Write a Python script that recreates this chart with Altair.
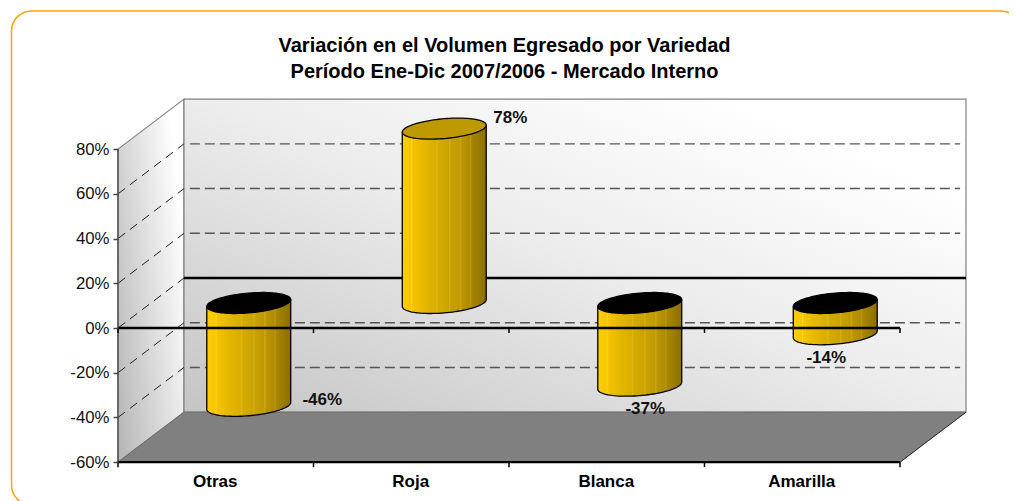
import math
import altair as alt
import pandas as pd

# ---- chart content -------------------------------------------------------
categories = ["Otras", "Roja", "Blanca", "Amarilla"]
values = [-46, 78, -37, -14]
y_ticks = [-60, -40, -20, 0, 20, 40, 60, 80]
dashed_levels = [-40, -20, 20, 40, 60]
side_dashed_levels = [-40, -20, 0, 20, 40, 60]
title_lines = ["Variación en el Volumen Egresado por Variedad",
               "Período Ene-Dic 2007/2006 - Mercado Interno"]

# ---- layout / projection --------------------------------------------------
W, H = 1001, 493
PX_PER_CAT = 195.5
PX_PER_PCT = 2.2357
X0_PAGE, Y0_PAGE = 118, 328          # page position of category 0 / 0 %
BOTTOM_PAGE = 463
X_DOMAIN = [(8 - X0_PAGE) / PX_PER_CAT, (8 + W - X0_PAGE) / PX_PER_CAT]
Y_DOMAIN = [(Y0_PAGE - (8 + H)) / PX_PER_PCT, (Y0_PAGE - 8) / PX_PER_PCT]
DEPTH_X = 66 / PX_PER_CAT            # oblique depth in category units
DEPTH_Y = 50 / PX_PER_PCT            # oblique depth in percent units
YMIN, YMAX, NCAT = -60, 80, 4

xs = alt.Scale(domain=X_DOMAIN, range=[0, W], nice=False, zero=False)
ys = alt.Scale(domain=Y_DOMAIN, range=[H, 0], nice=False, zero=False)
FONT = "Liberation Sans"


def X(f="x"):
    return alt.X(f"{f}:Q", scale=xs, title=None)


def Y(f="y"):
    return alt.Y(f"{f}:Q", scale=ys, title=None)


def lines(rows, **mark):
    """Independent straight segments."""
    df = pd.DataFrame([{"x": a, "y": b, "x2": c, "y2": d} for a, b, c, d in rows])
    return alt.Chart(df).mark_rule(**mark).encode(
        x=X(), y=Y(), x2="x2:Q", y2="y2:Q")


def oblique(rows, **mark):
    """Segments that are neither horizontal nor vertical, drawn as 2-point lines."""
    recs = []
    for i, (a, b, c, d) in enumerate(rows):
        recs += [{"x": a, "y": b, "k": i, "o": 0}, {"x": c, "y": d, "k": i, "o": 1}]
    return alt.Chart(pd.DataFrame(recs)).mark_line(**mark).encode(
        x=X(), y=Y(), detail="k:N", order="o:Q")


def px_x(p):
    return (p - X0_PAGE) / PX_PER_CAT


def px_y(p):
    return (Y0_PAGE - p) / PX_PER_PCT


# ---- outer rounded frame, first layer also carries the axes --------------------
frame = alt.Chart(pd.DataFrame([{
    "x": px_x(11.5), "x2": px_x(1021), "y": px_y(11), "y2": px_y(505)}])
).mark_rect(cornerRadius=20, fill="white", stroke="#FFA500", strokeWidth=1.5).encode(
    x=alt.X("x:Q", scale=xs, title=None, axis=alt.Axis(
        values=[i + 0.5 for i in range(NCAT)],
        labelExpr=f"{categories}[datum.value - 0.5]",
        ticks=False, domain=False, grid=False, orient="bottom",
        offset=BOTTOM_PAGE - (8 + H), tickSize=0, labelPadding=10, labelOffset=-1,
        labelFont=FONT, labelFontSize=17, labelFontWeight="bold", labelColor="black",
        zindex=2)),
    x2="x2:Q",
    y=alt.Y("y:Q", scale=ys, title=None, axis=alt.Axis(
        values=y_ticks, labelExpr="datum.value + '%'",
        domain=False, grid=False, orient="left", offset=-110,
        tickSize=5, tickColor="#444444", tickWidth=1.5, labelPadding=4,
        labelFont=FONT, labelFontSize=16.8, labelColor="#111111", zindex=2)),
    y2="y2:Q")

# ---- walls --------------------------------------------------------------------
side_wall = alt.Chart(pd.DataFrame({
    "x": [0, DEPTH_X],
    "y": [YMAX, YMAX + DEPTH_Y],
    "y2": [YMIN, YMIN + DEPTH_Y]})
).mark_area(
    fill=alt.Gradient(gradient="linear", x1=0, y1=1, x2=1, y2=0.35, stops=[
        alt.GradientStop(color="#b4b4b4", offset=0),
        alt.GradientStop(color="#ffffff", offset=1)]),
    stroke="#808080", strokeWidth=1.2, line=False,
).encode(x=X(), y=Y(), y2="y2:Q")

back_wall = alt.Chart(pd.DataFrame([{
    "x": DEPTH_X, "x2": NCAT + DEPTH_X,
    "y": YMIN + DEPTH_Y, "y2": YMAX + DEPTH_Y}])
).mark_rect(
    fill=alt.Gradient(gradient="linear", x1=0, y1=1, x2=1, y2=0, stops=[
        alt.GradientStop(color="#c4c4c4", offset=0),
        alt.GradientStop(color="#ececec", offset=0.5),
        alt.GradientStop(color="#ffffff", offset=0.85)]),
    stroke="#808080", strokeWidth=1.2,
).encode(x=X(), x2="x2:Q", y=Y(), y2="y2:Q")

floor = alt.Chart(pd.DataFrame({
    "y": [YMIN, YMIN + DEPTH_Y],
    "x": [0, DEPTH_X],
    "x2": [NCAT, NCAT + DEPTH_X]})
).mark_area(orient="horizontal", fill="#808080", stroke="#666666", strokeWidth=0.8).encode(
    y=Y(), x=X(), x2="x2:Q")

back_grid = lines(
    [(DEPTH_X + 0.03, v + DEPTH_Y, NCAT + DEPTH_X - 0.03, v + DEPTH_Y) for v in dashed_levels],
    color="#555555", strokeWidth=1.4, strokeDash=[10, 5])
side_grid = oblique(
    [(0, v, DEPTH_X, v + DEPTH_Y) for v in side_dashed_levels],
    color="#222222", strokeWidth=1, strokeDash=[9, 6])
back_zero = lines([(DEPTH_X, DEPTH_Y, NCAT + DEPTH_X, DEPTH_Y)], color="black", strokeWidth=2.4)

# ---- cylinders --------------------------------------------------------------------
HALF_W = 42 / PX_PER_CAT
ELL_A = 39.6 / PX_PER_CAT
ELL_B = 13.9 / PX_PER_CAT
ELL_C = 10.5 / PX_PER_PCT
T_R = math.atan2(ELL_B, ELL_A)
SLOPE = ELL_C * math.sin(T_R) / HALF_W
N_ARC = 48
# banded gold shading: (offset, colour)
BODY_STOPS = [
    (0.00, "#FFCC00"), (0.10, "#F8C700"), (0.11, "#FFD21A"), (0.13, "#F4C300"),
    (0.25, "#E6B800"), (0.40, "#D9AE00"), (0.41, "#E0B71A"), (0.43, "#D6AB00"),
    (0.55, "#CCA300"), (0.56, "#D6AF1A"), (0.58, "#C9A100"), (0.68, "#C09A00"),
    (0.69, "#CBA61A"), (0.71, "#BC9600"), (0.80, "#AE8B00"), (0.81, "#BA981A"),
    (0.83, "#A88600"), (0.90, "#9C7D00"), (1.00, "#8A6E00"),
]
BODY = alt.Gradient(gradient="linear", x1=0, y1=0, x2=1, y2=0, stops=[
    alt.GradientStop(color=c, offset=o) for o, c in BODY_STOPS])


def lower_arc(cx, cy):
    pts = []
    for i in range(N_ARC + 1):
        t = T_R + math.pi + i / N_ARC * math.pi
        pts.append((cx + ELL_A * math.cos(t) + ELL_B * math.sin(t),
                    cy + ELL_C * math.sin(t)))
    return pts


def cylinder(i, v):
    cx = i + 0.5 + DEPTH_X / 2
    shift = DEPTH_Y / 2
    upper, lower = max(v, 0) + shift, min(v, 0) + shift
    arc = lower_arc(cx, lower)
    body = pd.DataFrame([{"x": x, "y": upper + SLOPE * (x - cx), "y2": y} for x, y in arc])
    body_mark = alt.Chart(body).mark_area(fill=BODY).encode(x=X(), y=Y(), y2="y2:Q")
    path = [(arc[0][0], upper - SLOPE * HALF_W)] + arc + [(arc[-1][0], upper + SLOPE * HALF_W)]
    edge = pd.DataFrame([{"x": x, "y": y, "o": k} for k, (x, y) in enumerate(path)])
    edge_mark = alt.Chart(edge).mark_line(color="black", strokeWidth=1.3).encode(
        x=X(), y=Y(), order="o:Q")
    cap_low = lower_arc(cx, upper)
    cap = pd.DataFrame([{"x": x, "y": 2 * (upper + SLOPE * (x - cx)) - y, "y2": y} for x, y in cap_low])
    cap_mark = alt.Chart(cap).mark_area(
        fill="#000000" if v < 0 else "#BF9900", stroke="black", strokeWidth=1.3
    ).encode(x=X(), y=Y(), y2="y2:Q")
    return [body_mark, edge_mark, cap_mark]


bars = []
for i, v in enumerate(values):
    bars += cylinder(i, v)

# ---- front axis lines / ticks ---------------------------------------------------------
front_axis = lines([(0, YMIN, 0, YMAX)], color="#555555", strokeWidth=1.5)
zero_line = lines([(0, 0, NCAT, 0)], color="black", strokeWidth=2.4)
bottom_line = lines([(0, YMIN, NCAT, YMIN)], color="black", strokeWidth=2.4)
TICK = 5 / PX_PER_PCT
x_ticks = lines(
    [(k, base, k, base - TICK) for k in range(NCAT + 1) for base in (0, YMIN)],
    color="black", strokeWidth=1.5)
floor_edge = oblique([(NCAT, YMIN, NCAT + DEPTH_X, YMIN + DEPTH_Y)], color="#333333", strokeWidth=1)

# ---- value labels (pixel nudges from the free end of each bar) --------------------
label_nudges = [(73.5, -6), (66, -11), (5.5, 23), (-9, 24)]
value_labels = []
for i, (v, (dx, dy)) in enumerate(zip(values, label_nudges)):
    value_labels.append(
        alt.Chart(pd.DataFrame([{"x": i + 0.5 + DEPTH_X / 2, "y": v + DEPTH_Y / 2, "t": f"{v}%"}]))
        .mark_text(font=FONT, fontSize=17, fontWeight="bold", color="#111111", dx=dx, dy=dy)
        .encode(x=X(), y=Y(), text="t:N"))

chart = alt.layer(
    frame, side_wall, back_wall, floor, floor_edge, back_grid, side_grid, back_zero,
    *bars, front_axis, zero_line, bottom_line, x_ticks, *value_labels,
).properties(
    width=W, height=H,
    padding=0,
    background="white",
    autosize=alt.AutoSizeParams(type="none"),
    title=alt.TitleParams(
        text=title_lines, anchor="middle", orient="top", offset=-74, dx=-4,
        font=FONT, fontSize=20, fontWeight="bold", color="black", lineHeight=26),
).configure_view(stroke=None)

chart.save("out.html", embed_options={"renderer": "svg", "actions": False})
